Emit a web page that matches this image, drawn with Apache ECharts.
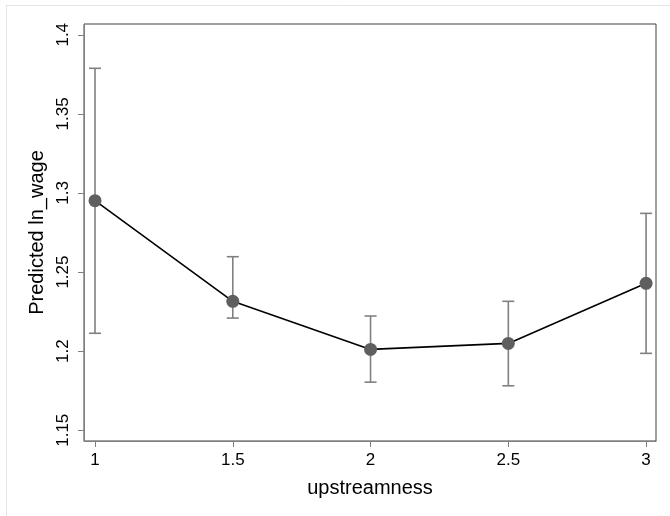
<!DOCTYPE html>
<html><head><meta charset="utf-8">
<script src="https://cdn.jsdelivr.net/npm/echarts@6/dist/echarts.min.js"></script>
<style>html,body{margin:0;padding:0;background:#fff}#c{width:670px;height:516px}</style>
</head><body><div id="c"></div>
<script>
const upstreamness = [1, 1.5, 2, 2.5, 3];
const predicted = [1.2951, 1.2315, 1.2011, 1.2049, 1.2429];
const ciLow = [1.2113, 1.2209, 1.1804, 1.1781, 1.1986];
const ciHigh = [1.3788, 1.2597, 1.2222, 1.2315, 1.2871];
const xTicks = [1, 1.5, 2, 2.5, 3];
const yTicks = [1.15, 1.2, 1.25, 1.3, 1.35, 1.4];

const chart = echarts.init(document.getElementById('c'), null, {renderer: 'canvas'});
const font = 'Liberation Sans, Arial, sans-serif';
const errData = upstreamness.map((x, i) => [x, ciLow[i], ciHigh[i]]);
chart.setOption({
  animation: false,
  backgroundColor: '#fff',
  graphic: [
    {type: 'line', shape: {x1: 6.5, y1: 5.5, x2: 670, y2: 5.5}, style: {stroke: '#e4e4e4', lineWidth: 1}, silent: true},
    {type: 'line', shape: {x1: 6.5, y1: 5.5, x2: 6.5, y2: 516}, style: {stroke: '#e4e4e4', lineWidth: 1}, silent: true}
  ],
  grid: {left: 84, top: 24, right: 14, bottom: 75, show: true, borderColor: '#404040', borderWidth: 1, backgroundColor: '#fff'},
  xAxis: {
    type: 'value', min: 0.96, max: 3.036,
    name: 'upstreamness', nameLocation: 'middle', nameGap: 37,
    nameTextStyle: {fontFamily: font, fontSize: 20, color: '#000'},
    axisLine: {show: true, lineStyle: {color: '#808080', width: 1}},
    axisTick: {show: true, length: 6, lineStyle: {color: '#808080'}, customValues: xTicks},
    axisLabel: {fontFamily: font, fontSize: 17, color: '#000', margin: 11, customValues: xTicks,
      formatter: v => String(v)},
    splitLine: {show: false}
  },
  yAxis: {
    type: 'value', min: 1.1432, max: 1.4068,
    name: 'Predicted ln_wage', nameLocation: 'middle', nameGap: 36,
    nameTextStyle: {fontFamily: font, fontSize: 20, color: '#000'},
    axisLine: {show: true, lineStyle: {color: '#808080', width: 1}},
    axisTick: {show: true, length: 6, lineStyle: {color: '#808080'}, customValues: yTicks},
    axisLabel: {fontFamily: font, fontSize: 17, color: '#000', rotate: 90, margin: 12, customValues: yTicks,
      formatter: v => String(Math.round(v * 100) / 100)},
    splitLine: {show: false}
  },
  series: [
    {
      type: 'custom',
      data: errData,
      z: 2,
      renderItem: function (params, api) {
        const x = api.value(0);
        const lo = api.coord([x, api.value(1)]);
        const hi = api.coord([x, api.value(2)]);
        const hw = 6;
        const st = {stroke: '#808080', lineWidth: 1.6};
        return {type: 'group', children: [
          {type: 'line', shape: {x1: lo[0], y1: lo[1], x2: hi[0], y2: hi[1]}, style: st},
          {type: 'line', shape: {x1: lo[0] - hw, y1: lo[1], x2: lo[0] + hw, y2: lo[1]}, style: st},
          {type: 'line', shape: {x1: hi[0] - hw, y1: hi[1], x2: hi[0] + hw, y2: hi[1]}, style: st}
        ]};
      }
    },
    {
      type: 'line',
      data: upstreamness.map((x, i) => [x, predicted[i]]),
      z: 3,
      symbol: 'circle', symbolSize: 13,
      lineStyle: {color: '#000', width: 1.6},
      itemStyle: {color: '#5f5f5f', borderWidth: 0}
    }
  ]
});
</script></body></html>
